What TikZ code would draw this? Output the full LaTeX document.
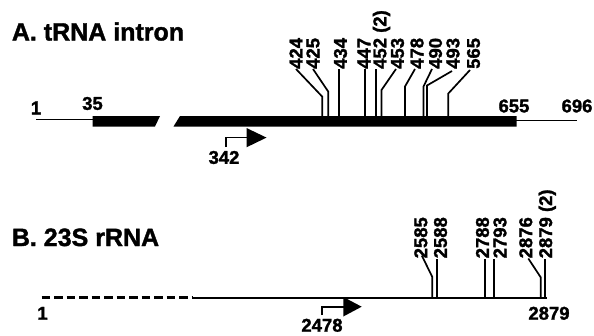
\documentclass[tikz,border=0pt]{standalone}
\usepackage{fontspec}
\setmainfont{Liberation Sans}
\newfontfamily\heavyfont{Liberation Sans Bold}[FakeBold=1.5]
\begin{document}
\begin{tikzpicture}[x=1pt,y=-1pt,
  num/.style={font=\fontsize{18.5}{18.5}\heavyfont, inner sep=0pt},
  vnum/.style={num, rotate=90, anchor=west},
  ttl/.style={font=\fontsize{25}{25}\heavyfont, inner sep=0pt, anchor=base west},
  tickline/.style={line width=1.7pt},
  thinline/.style={line width=1.5pt},
  rline/.style={line width=2pt},
  rdash/.style={line width=2.3pt, dash pattern=on 8.3pt off 4.2pt},
  barfill/.style={fill=black, draw=none},
]
\useasboundingbox (0,0) rectangle (594,335);

% ---------- A ----------
\node[ttl] (tA) at (11.7,40.5) {A. tRNA intron};

\draw[thinline] (36,119.5) -- (93,119.5);
\draw[thinline] (516,120.5) -- (577,120.5);
\fill[barfill] (92.7,116) -- (160,116) -- (155,126.5) -- (92.7,126.5) -- cycle;
\fill[barfill] (180,116) -- (516.7,116) -- (516.7,126.5) -- (173.5,126.5) -- cycle;

\node[num] (n1) at (36,108) {1};
\node[num] (n35) at (92.5,103.5) {35};
\node[num] (n655) at (514,106) {655};
\node[num] (n696) at (577,106) {696};

% promoter arrow 342
\draw[tickline] (226,147) -- (226,137.5) -- (247,137.5);
\fill (246.5,128) -- (246.5,147.3) -- (266.5,137.6) -- cycle;
\node[num] (n342) at (224,157.5) {342};

% tick labels A
\node[vnum] (l424) at (296,69) {424};
\node[vnum] (l425) at (313,69) {425};
\node[vnum] (l434) at (340.5,69) {434};
\node[vnum] (l447) at (364,69) {447};
\node[vnum] (l452) at (381.5,69) {452 (2)};
\node[vnum] (l453) at (397.5,69) {453};
\node[vnum] (l478) at (417,69) {478};
\node[vnum] (l490) at (435.5,69) {490};
\node[vnum] (l493) at (453,69) {493};
\node[vnum] (l565) at (473.5,69) {565};

\coordinate (k424) at (322.3,96.7);
\coordinate (k425) at (328.3,91.7);
\coordinate (k453) at (381.5,90);
\coordinate (k478) at (405,86.5);
\coordinate (k490) at (423.5,86.5);
\coordinate (k493) at (427,85.5);
\coordinate (k565) at (448.3,93.5);

\draw[tickline] (322.3,116) -- (k424) -- (l424.west);
\draw[tickline] (328.3,116) -- (k425) -- (l425.west);
\draw[tickline] (339.3,116) -- (339.3,69);
\draw[tickline] (365,116) -- (365,69);
\draw[tickline] (376,116) -- (376,69);
\draw[tickline] (381.5,116) -- (k453) -- ([xshift=-1.5pt]l453.west);
\draw[tickline] (405,116) -- (k478) -- ([xshift=-2pt]l478.west);
\draw[tickline] (423.5,116) -- (k490) -- ([xshift=-3.5pt]l490.west);
\draw[tickline] (427,116) -- (k493) -- ([xshift=-1pt,yshift=-2pt]l493.west);
\draw[tickline] (448.3,116) -- (k565) -- ([xshift=-3.5pt,yshift=-1pt]l565.west);

% ---------- B ----------
\node[ttl] (tB) at (11.7,246) {B. 23S rRNA};

\draw[rdash] (41.7,297.5) -- (193,297.5);
\draw[rline] (193,297.5) -- (546.7,297.5);

\node[num] (m1) at (42.5,313.3) {1};
\node[num] (m2879) at (549,313.3) {2879};

% promoter arrow 2478
\draw[tickline] (321.7,315) -- (321.7,306.7) -- (344,306.7);
\fill (343.3,297) -- (343.3,316.5) -- (361.7,306.7) -- cycle;
\node[num] (n2478) at (322,325.3) {2478};

\node[vnum] (l2585) at (420.8,258.5) {2585};
\node[vnum] (l2588) at (440.5,258.5) {2588};
\node[vnum] (l2788) at (482.5,258.5) {2788};
\node[vnum] (l2793) at (500,258.5) {2793};
\node[vnum] (l2876) at (525.8,258.5) {2876};
\node[vnum] (l2879) at (547.3,258.5) {2879 (2)};

\coordinate (k2585) at (432.3,277);
\coordinate (k2876) at (540.7,277.3);

\draw[tickline] (432.3,297) -- (k2585) -- ([xshift=1pt,yshift=3pt]l2585.west);
\draw[tickline] (436.7,297) -- (436.7,259);
\draw[tickline] (485,297) -- (485,258.5);
\draw[tickline] (494,297) -- (494,258.5);
\draw[tickline] (540.7,297) -- (k2876) -- ([xshift=2.5pt]l2876.west);
\draw[tickline] (545,297) -- (545,259);
\end{tikzpicture}
\end{document}
